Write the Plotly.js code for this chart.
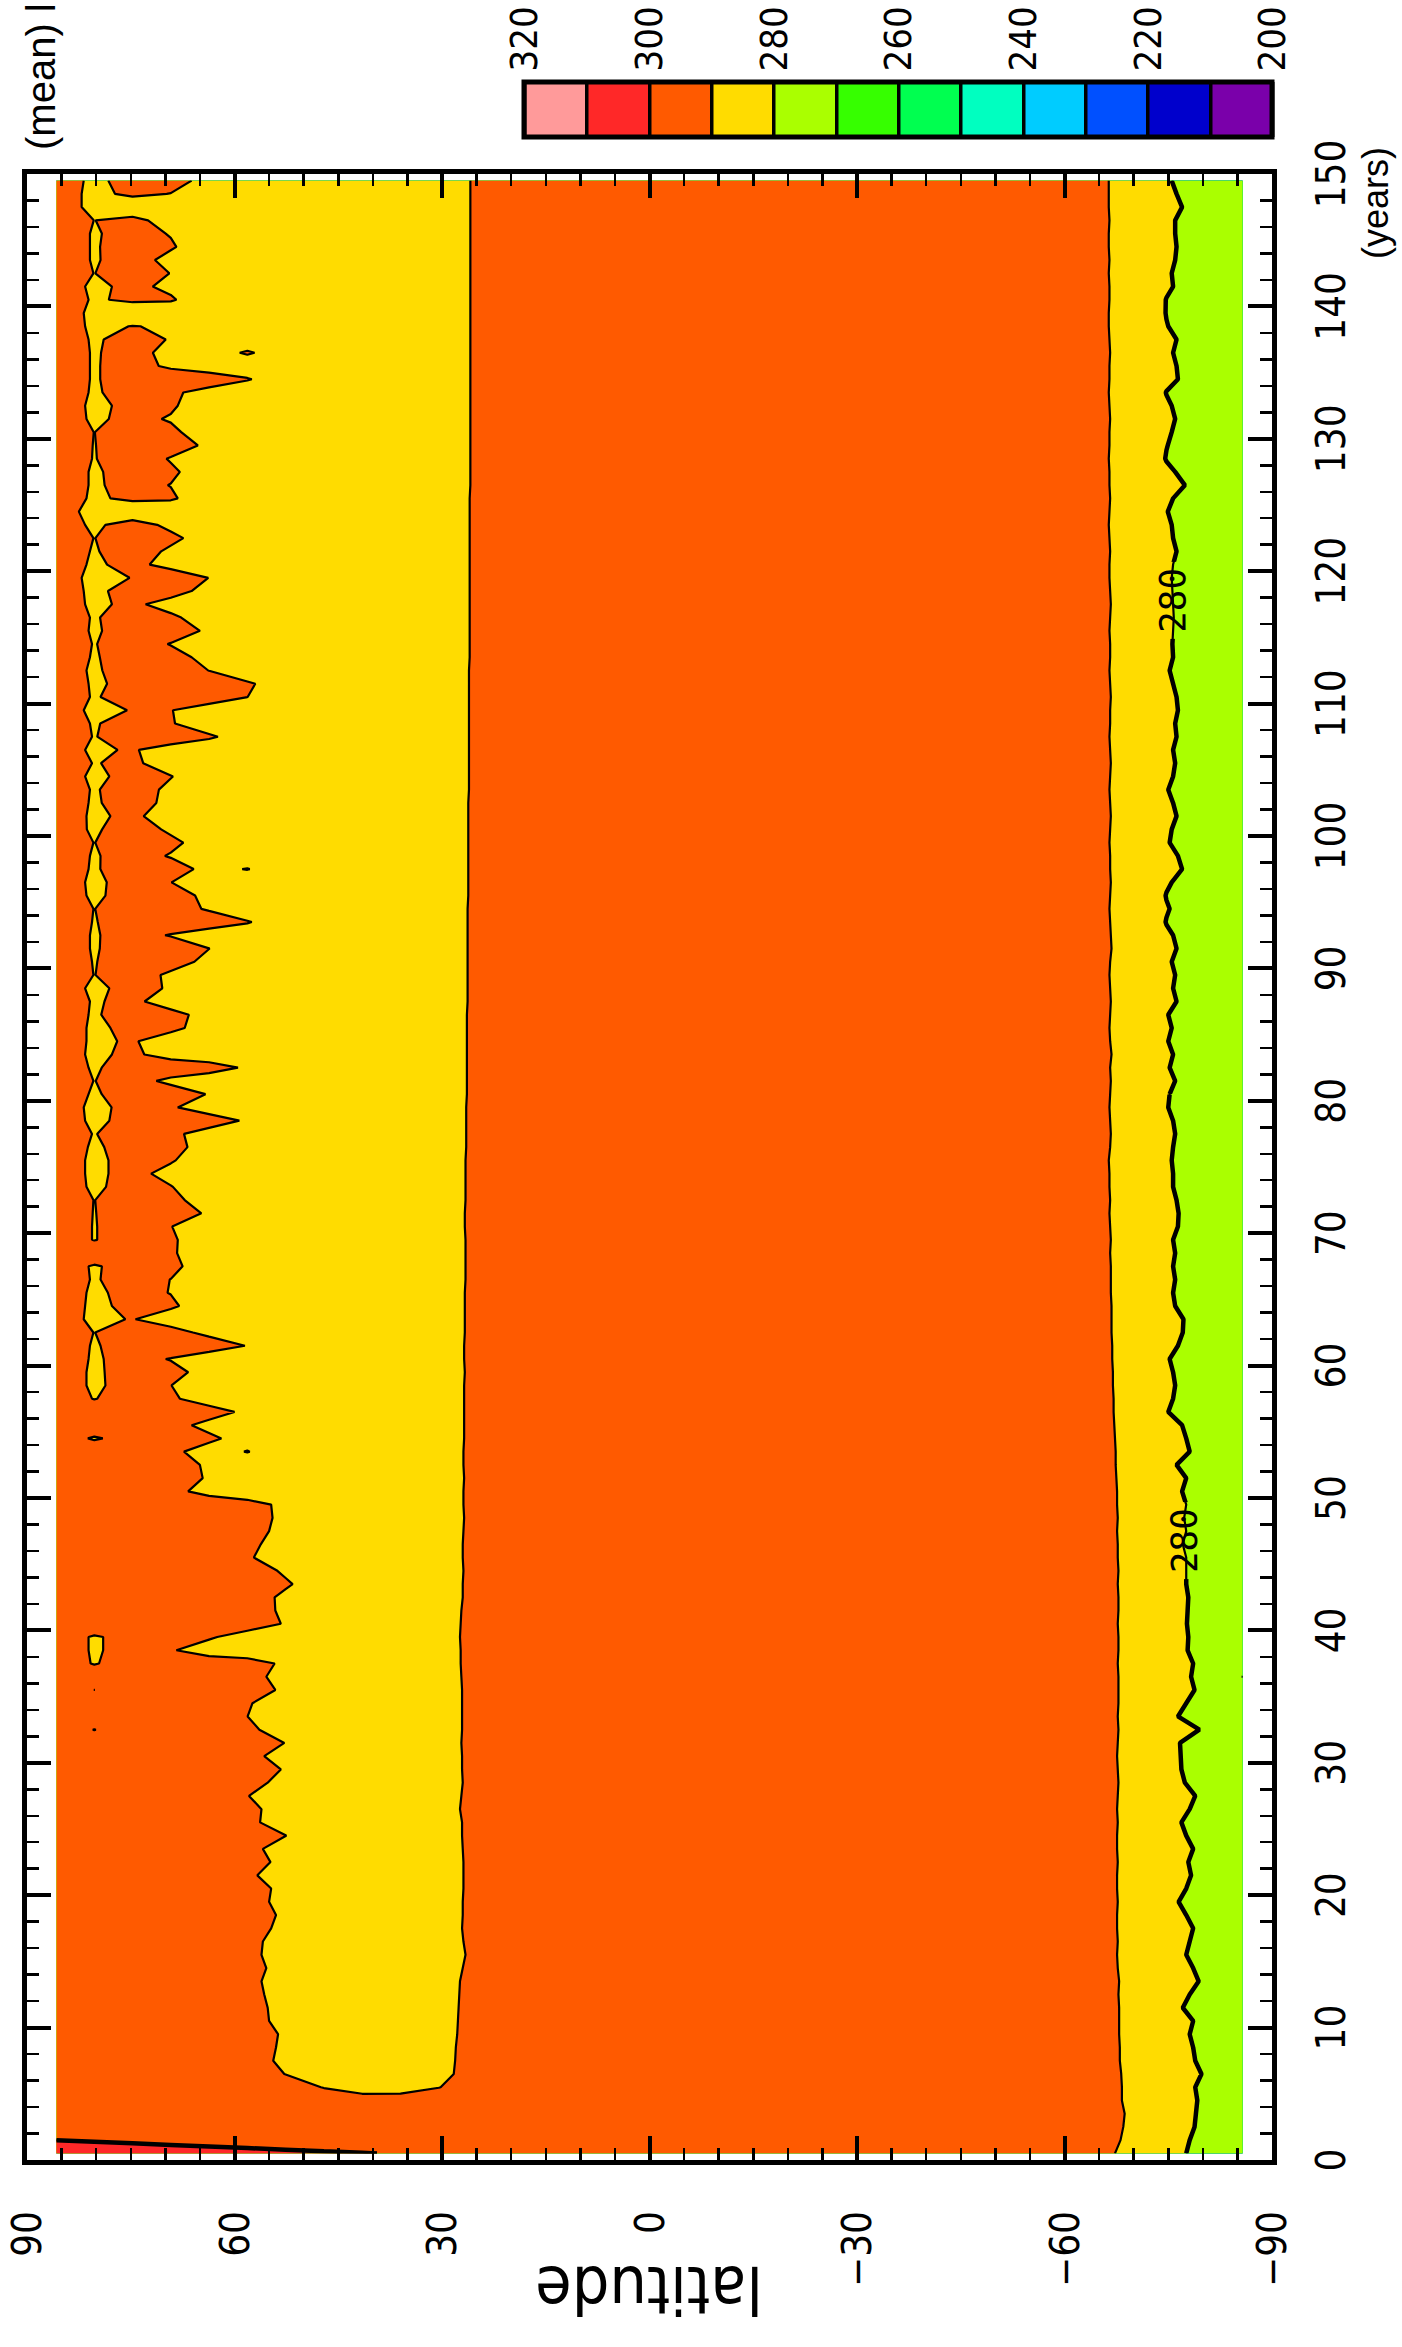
<!DOCTYPE html>
<html><head><meta charset="utf-8">
<script src="https://cdn.plot.ly/plotly-3.0.1.min.js"></script>
<style>
html,body{margin:0;padding:0;width:1402px;height:2347px;overflow:hidden;background:#fff;}
#plot{position:absolute;left:0;top:0;width:2347px;height:1402px;transform-origin:0 0;transform:translate(0px,2347px) rotate(-90deg);}
</style></head><body><div id="plot"></div>
<script>
// ---------------- data ----------------
// time axis (annual values) and T21 gaussian latitudes
const years = Array.from({length:150}, (_, i) => i + 0.5);
const latsNorth = [85.7606, 80.2688, 74.7445, 69.2130, 63.6786, 58.1430, 52.6065, 47.0696,
                   41.5325, 35.9951, 30.4576, 24.9199, 19.3822, 13.8445, 8.3067, 2.7689];
const lats = latsNorth.map(v => -v).concat(latsNorth.slice().reverse());

// contour levels / colour bands (200..320 step 10)
const levelStart = 200, levelEnd = 320, levelStep = 10;
const bandColors = ['#7a00aa','#0000cc','#0050ff','#00ccff','#00ffc0','#00ff50',
                    '#36ff00','#aaff00','#ffdc00','#ff5a00','#ff2828','#ff9a9a'];
const cbTickVals = [200, 220, 240, 260, 280, 300, 320];

// northern edge of the 300 (red) area, first years only
const redEdge = [39.4, 86.0].concat(Array(148).fill(null));

// 290 crossings north of the equatorial band, per year (pole -> equator)
const northX = [
 [],[],[],[],[],
 [47.5,30.2],[52.8,28.3],[54.4,28.1],[54.0,28.0],[53.7,27.8],
 [55.0,27.7],[55.2,27.6],[55.7,27.5],[56.1,27.4],[55.4,27.0],
 [56.1,26.6],[55.9,26.9],[54.7,27.1],[54.0,27.0],[55.0,27.0],
 [54.7,26.9],[56.7,26.9],[54.8,26.9],[55.9,27.0],[52.5,27.1],
 [56.3,27.1],[56.1,27.4],[57.9,27.2],[55.2,27.0],[53.3,27.1],
 [55.7,27.1],[52.8,27.2],[80.5,80.05,56.4,27.1],[58.1,27.1],[57.4,27.1],
 [80.29,80.25,54.1,27.1],[55.4,27.2],[80.8,78.5,54.2,27.3],[81.1,77.5,68.4,27.3],[81.1,77.5,62.5,27.4],
 [53.3,27.3],[54.1,27.2],[54.2,27.0],[51.6,27.0],[53.8,26.9],
 [57.2,27.0],[56.2,27.0],[55.0,26.9],[54.5,26.8],[54.7,26.9],
 [66.7,26.9],[64.6,26.8],[65.0,26.9],[67.3,59.3,57.8,26.9],[81.2,78.0,61.9,26.8],
 [66.2,26.8],[60.0,26.8],[80.6,78.7,67.9,26.8],[81.4,77.5,69.1,26.8],[81.4,77.8,66.7,26.7],
 [81.1,77.3,69.6,26.8],[80.9,78.0,58.5,26.8],[80.4,80.1,66.0,26.7],[81.8,75.1,73.4,26.7],[81.6,76.3,68.0,26.7],
 [81.4,76.8,69.4,26.7],[80.9,78.0,69.3,26.6],[81.1,78.1,67.5,26.6],[68.3,26.6],[80.6,78.8,68.2,26.6],
 [80.6,78.8,69.0,26.7],[80.5,79.0,64.8,26.7],[80.4,80.0,67.2,26.6],[81.4,77.3,68.9,26.6],[81.6,77.0,71.6,26.6],
 [81.6,77.0,68.5,26.6],[81.2,77.4,66.8,26.5],[80.6,78.9,67.3,26.5],[81.6,76.8,59.3,26.5],[81.8,76.6,68.2,26.5],
 [81.1,78.2,64.2,26.4],[80.4,80.1,71.3,26.4],[81.1,78.2,59.5,26.4],[81.6,76.3,72.7,26.4],[81.4,75.5,73.4,26.4],
 [81.4,76.3,67.2,26.4],[81.1,78.5,66.6,26.4],[80.9,77.0,73.0,26.3],[81.6,76.8,69.8,26.3],[80.4,80.1,70.7,26.3],
 [80.6,78.7,65.8,26.3],[80.9,78.5,63.6,26.3],[80.9,78.1,69.8,26.3],[80.6,78.1,57.5,26.3],[80.4,80.1,64.8,26.3],
 [81.4,77.5,65.7,26.2],[81.6,77.5,69.1,26.2],[81.1,79.2,65.9,59.5,57.8,26.2],[80.9,78.0,69.8,26.2],[80.4,79.7,67.4,26.2],
 [81.4,79.2,70.6,26.2],[81.4,76.3,73.0,26.2],[81.1,78.2,71.3,26.2],[80.9,78.5,70.9,26.1],[81.6,76.8,68.9,26.1],
 [80.6,77.8,73.2,26.1],[81.6,75.6,73.5,26.1],[80.6,78.7,62.4,26.1],[80.9,78.2,68.6,26.1],[81.8,75.0,68.9,26.1],
 [80.9,78.0,58.1,26.1],[81.1,76.4,57.0,26.1],[81.4,79.0,63.8,26.1],[80.9,78.5,66.2,26.0],[80.6,78.9,69.6,26.0],
 [81.1,78.0,65.0,26.0],[80.9,78.3,67.7,26.0],[81.6,76.3,72.2,26.0],[81.8,77.5,66.2,26.0],[82.1,74.9,63.8,26.0],
 [81.4,77.0,72.0,26.0],[80.9,78.9,70.6,26.0],[80.4,79.2,67.4,26.0],[81.6,78.0,71.0,26.0],[82.5,26.0],
 [81.4,76.3,68.2,26.0],[81.1,77.0,69.4,25.9],[81.1,77.5,67.9,25.9],[80.6,79.4,69.8,25.9],[80.5,79.6,65.3,25.9],
 [80.35,80.15,67.7,25.9],[81.4,76.6,69.8,25.9],[81.6,76.3,68.2,25.9],[81.1,77.8,67.4,25.9],[80.9,78.2,57.5,25.9],
 [80.9,78.2,70.8,25.9],[80.9,78.0,71.8,59.5,57.1,25.9],[81.1,77.3,69.6,25.9],[81.6,74.9,69.8,25.9],[81.8,25.9],
 [81.1,76.1,68.4,25.9],[81.6,76.3,70.6,25.9],[80.4,79.4,69.4,25.9],[80.9,78.2,71.5,25.9],[80.9,78.3,68.4,25.9],
 [80.9,77.3,69.6,25.9],[80.35,80.15,72.5,25.9],[82.1,25.9],[82.1,76.3,69.4,25.9],[81.8,77.4,66.2,25.9]
];

// southern 290 crossing (orange -> yellow), per year
const southEdge = [
 -67.3,-68.1,-68.5,-68.7,-68.3,-68.3,-68.2,-68.0,-68.0,-67.9,
 -67.9,-67.9,-67.8,-67.9,-67.7,-67.6,-67.7,-67.6,-67.6,-67.7,
 -67.6,-67.6,-67.7,-67.6,-67.6,-67.7,-67.6,-67.7,-67.8,-67.7,
 -67.6,-67.7,-67.8,-67.7,-67.8,-67.8,-67.8,-67.7,-67.8,-67.8,
 -67.7,-67.8,-67.8,-67.7,-67.8,-67.7,-67.7,-67.6,-67.7,-67.6,
 -67.6,-67.5,-67.4,-67.4,-67.3,-67.2,-67.1,-67.1,-67.0,-67.0,
 -66.9,-66.9,-66.8,-66.8,-66.8,-66.7,-66.7,-66.7,-66.6,-66.7,
 -66.6,-66.5,-66.6,-66.5,-66.5,-66.4,-66.6,-66.7,-66.6,-66.5,
 -66.6,-66.7,-66.6,-66.8,-66.6,-66.5,-66.6,-66.7,-66.6,-66.5,
 -66.6,-66.8,-66.7,-66.6,-66.5,-66.6,-66.7,-66.6,-66.6,-66.5,
 -66.6,-66.7,-66.6,-66.5,-66.6,-66.7,-66.6,-66.5,-66.6,-66.6,
 -66.7,-66.6,-66.5,-66.6,-66.6,-66.5,-66.6,-66.7,-66.6,-66.5,
 -66.5,-66.6,-66.5,-66.4,-66.5,-66.6,-66.5,-66.5,-66.4,-66.5,
 -66.5,-66.6,-66.5,-66.4,-66.5,-66.5,-66.6,-66.5,-66.4,-66.4,
 -66.5,-66.5,-66.4,-66.5,-66.4,-66.4,-66.5,-66.4,-66.4,-66.4
];

// southern 280 crossing (yellow -> yellow-green), per year
const iceEdge = [
 -77.6,-78.1,-78.8,-79.0,-79.2,-78.9,-79.8,-78.9,-78.6,-78.1,
 -78.6,-77.1,-78.1,-79.4,-78.6,-77.6,-78.1,-78.6,-77.6,-76.5,
 -77.6,-78.3,-77.9,-78.6,-77.6,-76.9,-78.1,-78.9,-77.4,-76.9,
 -76.8,-76.7,-79.5,-76.4,-77.6,-78.8,-78.3,-78.6,-77.8,-77.9,
 -77.7,-77.8,-77.9,-77.6,-77.6,-77.6,-77.1,-77.6,-77.3,-77.6,
 -77.0,-77.6,-76.2,-78.1,-77.6,-77.0,-75.0,-75.7,-76.0,-75.7,
 -75.2,-76.4,-77.1,-77.2,-76.0,-75.7,-76.0,-75.7,-76.0,-75.7,
 -76.4,-76.5,-76.2,-75.7,-75.7,-75.5,-75.7,-76.0,-75.7,-75.0,
 -75.2,-76.0,-75.2,-75.7,-75.0,-75.5,-75.0,-76.2,-75.7,-76.0,
 -75.5,-76.2,-75.7,-74.5,-75.2,-74.5,-75.5,-77.0,-76.4,-75.2,
 -75.5,-76.2,-75.7,-75.0,-75.7,-76.0,-75.7,-76.2,-76.0,-76.4,
 -76.2,-75.7,-75.2,-75.7,-75.6,-75.7,-75.8,-75.7,-75.6,-75.5,
 -75.7,-76.2,-75.7,-75.5,-74.9,-75.7,-77.4,-76.0,-74.4,-74.8,
 -75.5,-76.0,-75.5,-74.6,-76.4,-76.2,-75.7,-76.2,-75.0,-74.5,
 -74.6,-75.7,-75.5,-76.0,-76.2,-76.0,-76.0,-77.0,-76.2,-75.5
];

// small dip below 270 at the southern edge (one year only)
const southDip = Array(150).fill(null);
southDip[36] = -85.6;

// ---------------- grid table built from the crossings ----------------
const slopeFor = {300: 0.1, 290: 0.8, 280: 0.8, 270: 0.8};
const capFor = {300: 40, 290: 6, 280: 6, 270: 6};
const clampBand = {R:[300.03,309.9], O:[290.03,299.97], Y:[280.15,289.97], G:[270.03,279.85], B:[260.15,269.97]};
const bandMid = {R:305, O:295, Y:285, G:275, B:265};
function buildColumn(i) {
  const bnds = [];
  if (redEdge[i] !== null) bnds.push({lat: redEdge[i], level: 300});
  northX[i].forEach(v => bnds.push({lat: v, level: 290}));
  bnds.push({lat: southEdge[i], level: 290});
  bnds.push({lat: iceEdge[i], level: 280});
  if (southDip[i] !== null) bnds.push({lat: southDip[i], level: 270});
  const cls = [(redEdge[i] !== null && redEdge[i] < 85.76) ? 'R' : 'O'];
  bnds.forEach(b => {
    const c = cls[cls.length - 1];
    let n;
    if (b.level === 300) n = 'O';
    else if (b.level === 290) n = (c === 'O') ? 'Y' : 'O';
    else if (b.level === 280) n = 'G';
    else n = 'B';
    cls.push(n);
  });
  return lats.map(phi => {
    let k = 0;
    while (k < bnds.length && bnds[k].lat > phi) k++;
    const c = cls[k];
    let best = null;
    [bnds[k - 1], bnds[k]].forEach(b => {
      if (!b) return;
      const d = Math.abs(b.lat - phi);
      if (best === null || d < best.d) best = {d: d, level: b.level};
    });
    const sign = bandMid[c] > best.level ? 1 : -1;
    let v = best.level + sign * slopeFor[best.level] * Math.min(best.d, capFor[best.level]);
    return Math.min(Math.max(v, clampBand[c][0]), clampBand[c][1]);
  });
}
const columns = years.map((_, i) => buildColumn(i));
const z = lats.map((_, j) => columns.map(col => col[j]));

// two halves of the record, used only for the labelled 280 line
const splitIdx = 80;
const xA = years.slice(0, splitIdx + 1), zA = z.map(r => r.slice(0, splitIdx + 1));
const xB = years.slice(splitIdx), zB = z.map(r => r.slice(splitIdx));

// ---------------- plot ----------------
const colorscale = [];
bandColors.forEach((c, k) => { colorscale.push([k / 12, c]); colorscale.push([(k + 1) / 12, c]); });

const TICKFONT = "'Liberation Sans Narrow', 'DejaVu Sans Condensed', 'Liberation Sans', sans-serif";
const SANS = "'Liberation Sans', Arial, sans-serif";
const contourLevels = {start: levelStart, end: levelEnd, size: levelStep, coloring: 'fill', showlines: true};

const scaleTrace = {
  type: 'contour', x: years, y: lats, z: z, opacity: 0,
  zmin: levelStart, zmax: levelEnd, zauto: false, autocontour: false,
  contours: contourLevels, colorscale: colorscale,
  line: {color: '#000', width: 3.5, smoothing: 0}, hoverinfo: 'skip',
  colorbar: {
    thickness: 55, thicknessmode: 'pixels', len: 748, lenmode: 'pixels',
    x: 1.0185, xanchor: 'left', xref: 'paper', y: 0, yanchor: 'bottom', yref: 'paper',
    xpad: 0, ypad: 0, outlinewidth: 5, outlinecolor: '#000', borderwidth: 0,
    tickmode: 'array', tickvals: cbTickVals, ticks: '', ticklen: 0,
    tickfont: {family: TICKFONT, size: 38, color: '#000'}
  }
};
const fillTrace = {
  type: 'contour', x: years, y: lats, z: z, showscale: false,
  zmin: levelStart, zmax: levelEnd, zauto: false, autocontour: false,
  contours: contourLevels, colorscale: colorscale,
  line: {color: '#000', width: 2.2, smoothing: 0}, hoverinfo: 'skip'
};
function iceLine(x, zz) {
  return {
    type: 'contour', x: x, y: lats, z: zz, autocontour: false,
    contours: {start: 280, end: 280, size: 10, coloring: 'none', showlabels: true,
               labelfont: {family: "'DejaVu Sans Mono', monospace", size: 36, color: '#000'}},
    line: {color: '#000', width: 4.5, smoothing: 0}, showscale: false, hoverinfo: 'skip'
  };
}
const hotLine = {
  type: 'contour', x: years, y: lats, z: z, autocontour: false,
  contours: {start: 300, end: 300, size: 10, coloring: 'none', showlabels: false},
  line: {color: '#000', width: 4.5, smoothing: 0}, showscale: false, hoverinfo: 'skip'
};

const axisCommon = {
  ticks: 'inside', ticklen: 24, tickwidth: 4, tickcolor: '#000',
  showline: true, linewidth: 5, linecolor: '#000', mirror: 'ticks',
  showgrid: false, zeroline: false,
  tickfont: {family: TICKFONT, size: 40, color: '#000'}
};
const layout = {
  width: 2347, height: 1402,
  margin: {l: 187, r: 165, t: 27, b: 130, pad: 0},
  paper_bgcolor: '#fff', plot_bgcolor: '#fff',
  showlegend: false, hovermode: false,
  xaxis: Object.assign({}, axisCommon, {
    range: [0, 150], tick0: 0, dtick: 10, ticklabelstandoff: 20,
    minor: {dtick: 2, ticks: 'inside', ticklen: 12, tickwidth: 2.5, tickcolor: '#000', showgrid: false}
  }),
  yaxis: Object.assign({}, axisCommon, {
    range: [-90, 90], tick0: 0, dtick: 30, ticklabelstandoff: 38,
    minor: {dtick: 5, ticks: 'inside', ticklen: 12, tickwidth: 2.5, tickcolor: '#000', showgrid: false}
  }),
  annotations: [
    {text: 'latitude', xref: 'paper', yref: 'paper', x: -0.0652, y: 0.5, textangle: -90,
     showarrow: false, xanchor: 'center', yanchor: 'middle',
     font: {family: TICKFONT, size: 66, color: '#000'}},
    {text: '(years)', xref: 'paper', yref: 'paper', x: 0.9855, y: -0.0835,
     showarrow: false, xanchor: 'center', yanchor: 'middle',
     font: {family: SANS, size: 36, color: '#000'}},
    {text: '(mean) l', xref: 'paper', yref: 'paper', x: 1.011, y: 0.9885,
     showarrow: false, xanchor: 'left', yanchor: 'middle',
     font: {family: SANS, size: 40, color: '#000'}}
  ]
};
Plotly.newPlot('plot', [scaleTrace, fillTrace, hotLine, iceLine(xA, zA), iceLine(xB, zB)], layout,
  {displayModeBar: false, staticPlot: true});
</script></body></html>
